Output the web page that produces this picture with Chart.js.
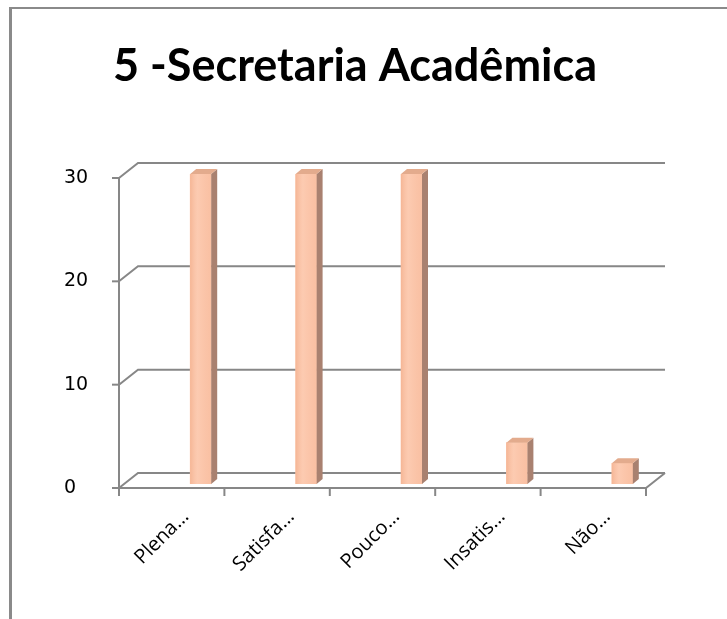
<!DOCTYPE html>
<html>
<head>
<meta charset="utf-8">
<script src="https://cdn.jsdelivr.net/npm/chart.js@4.4.1/dist/chart.umd.min.js"></script>
<style>
  html, body { margin: 0; padding: 0; background: #ffffff; }
  #wrap { position: relative; width: 727px; height: 619px; overflow: hidden; }
  #frame { position: absolute; left: 9px; top: 7px; width: 740px; height: 640px;
           border-left: 3px solid #8a8a8a; border-top: 2px solid #8a8a8a; pointer-events: none; }
  canvas { position: absolute; left: 0; top: 0; }
</style>
</head>
<body>
<div id="wrap">
  <canvas id="c" width="727" height="619"></canvas>
  <div id="frame"></div>
</div>
<script>
const chartTitle = '5 -Secretaria Acadêmica';
const categories = ['Plena…', 'Satisfa…', 'Pouco…', 'Insatis…', 'Não…'];
const values = [30, 30, 30, 4, 2];
const yTicks = [0, 10, 20, 30];

const GRID = '#878787';
const WALL_DX = 19, WALL_DY = -15;   // depth of the back wall
const BAR_DX = 29, BAR_DY = -4;      // position of the bars inside the depth
const SIDE_DX = 6, SIDE_DY = -5;     // thickness of each column

const threeD = {
  id: 'threeD',
  beforeDatasetsDraw(chart) {
    const ctx = chart.ctx, y = chart.scales.y, ca = chart.chartArea;
    ctx.save();
    ctx.strokeStyle = GRID;
    ctx.lineWidth = 2;
    yTicks.forEach(v => {
      const py = y.getPixelForValue(v);
      ctx.beginPath();
      ctx.moveTo(ca.left, py);
      ctx.lineTo(ca.left + WALL_DX, py + WALL_DY);
      ctx.lineTo(ca.right + WALL_DX, py + WALL_DY);
      ctx.stroke();
    });
    ctx.restore();
    ctx.save();
    ctx.translate(BAR_DX, BAR_DY);
  },
  afterDatasetsDraw(chart) {
    const ctx = chart.ctx;
    const meta = chart.getDatasetMeta(0);
    meta.data.forEach(bar => {
      const half = bar.width / 2;
      const l = bar.x - half, r = bar.x + half, t = bar.y, b = bar.base;
      ctx.fillStyle = '#a98170';
      ctx.beginPath();
      ctx.moveTo(r, t); ctx.lineTo(r + SIDE_DX, t + SIDE_DY);
      ctx.lineTo(r + SIDE_DX, b + SIDE_DY); ctx.lineTo(r, b);
      ctx.closePath(); ctx.fill();
      ctx.fillStyle = '#e3ab8d';
      ctx.beginPath();
      ctx.moveTo(l, t); ctx.lineTo(l + SIDE_DX, t + SIDE_DY);
      ctx.lineTo(r + SIDE_DX, t + SIDE_DY); ctx.lineTo(r, t);
      ctx.closePath(); ctx.fill();
      const g = ctx.createLinearGradient(l, 0, r, 0);
      g.addColorStop(0, 'rgba(240,170,135,0.55)');
      g.addColorStop(0.35, 'rgba(255,215,195,0.35)');
      g.addColorStop(1, 'rgba(245,180,150,0.25)');
      ctx.fillStyle = g;
      ctx.fillRect(l, t, r - l, b - t);
    });
    ctx.restore();
  },
  afterDraw(chart) {
    const ctx = chart.ctx, y = chart.scales.y, ca = chart.chartArea;
    ctx.save();
    ctx.strokeStyle = GRID;
    ctx.lineWidth = 2;
    ctx.beginPath();
    ctx.moveTo(ca.left, y.getPixelForValue(yTicks[yTicks.length - 1]));
    ctx.lineTo(ca.left, ca.bottom + 8);
    ctx.stroke();
    yTicks.forEach(v => {
      const py = y.getPixelForValue(v);
      ctx.beginPath();
      ctx.moveTo(ca.left - 7, py);
      ctx.lineTo(ca.left, py);
      ctx.stroke();
    });
    const py0 = y.getPixelForValue(0);
    ctx.beginPath();
    ctx.moveTo(ca.left, py0);
    ctx.lineTo(ca.right, py0);
    ctx.lineTo(ca.right + WALL_DX, py0 + WALL_DY);
    ctx.stroke();
    const n = categories.length;
    const step = (ca.right - ca.left) / n;
    for (let i = 1; i <= n; i++) {
      const px = ca.left + i * step;
      ctx.beginPath();
      ctx.moveTo(px, py0);
      ctx.lineTo(px, py0 + 8);
      ctx.stroke();
    }
    ctx.restore();
  }
};

new Chart(document.getElementById('c'), {
  type: 'bar',
  data: {
    labels: categories,
    datasets: [{
      data: values,
      backgroundColor: '#fbc4a7',
      borderWidth: 0,
      barThickness: 21
    }]
  },
  options: {
    responsive: false,
    animation: false,
    events: [],
    layout: { padding: { left: 64, right: 81, top: 0, bottom: 0 } },
    plugins: {
      legend: { display: false },
      tooltip: { enabled: false },
      title: {
        display: true,
        text: chartTitle,
        align: 'center',
        color: '#000000',
        font: { family: 'Lato', size: 45, weight: 'bold' },
        padding: { top: 39, bottom: 85 }
      }
    },
    scales: {
      x: {
        grid: { display: false, drawTicks: false },
        border: { display: false },
        ticks: {
          color: '#000000',
          font: { family: 'Open Sans', size: 20 },
          minRotation: 45, maxRotation: 45,
          padding: 17, labelOffset: 14, autoSkip: false
        },
        afterFit(scale) { scale.height = 131; }
      },
      y: {
        min: 0, max: 30,
        grid: { display: false, drawTicks: false },
        border: { display: false },
        ticks: {
          stepSize: 10,
          crossAlign: 'far',
          color: '#000000',
          font: { family: 'DejaVu Sans', size: 19 },
          padding: 26
        },
        afterFit(scale) { scale.width = 55; }
      }
    }
  },
  plugins: [threeD]
});
</script>
</body>
</html>
